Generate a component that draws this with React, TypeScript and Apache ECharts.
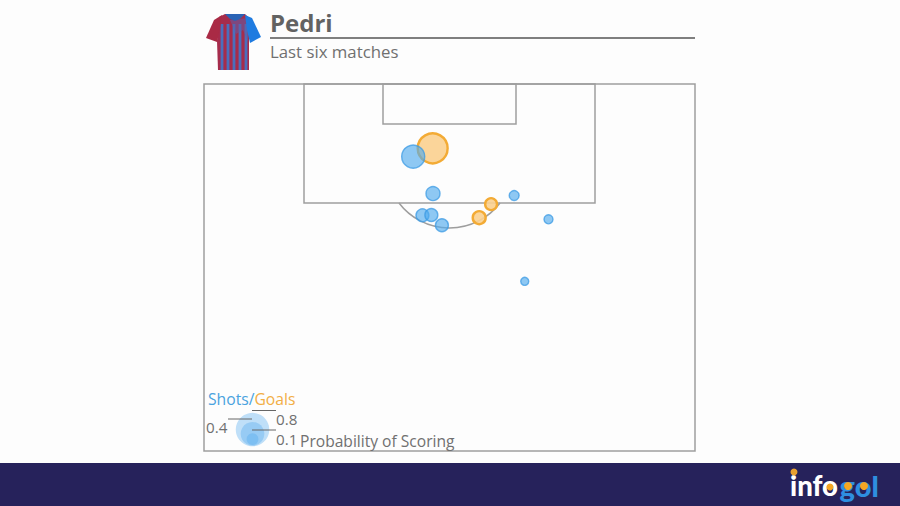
import React, { useEffect, useRef } from "react";
import * as echarts from "echarts";

// Shot positions in yards: [across from pitch centre, out from goal line, probability of scoring]
const shots: number[][] = [
  [-5.5, 11.0, 0.38],
  [-2.5, 16.6, 0.14],
  [9.8, 16.9, 0.07],
  [-4.1, 19.9, 0.12],
  [-2.75, 19.85, 0.12],
  [-1.15, 21.4, 0.12],
  [15.0, 20.5, 0.058],
  [11.4, 29.9, 0.046],
];
const goals: number[][] = [
  [-2.55, 9.75, 0.64],
  [6.3, 18.2, 0.1],
  [4.5, 20.25, 0.12],
];
const legendSizes: number[][] = [
  [-29.85, 52.35, 0.8],
  [-29.85, 53.0, 0.4],
  [-29.85, 53.8, 0.1],
];
const titleText = "Pedri";
const subtitleText = "Last six matches";
const legendProbabilityLabels = ["0.8", "0.4", "0.1"];
const legendCaption = "Probability of Scoring";

const TEXT = "#707070";
const LINE = "#9e9e9e";
const FONT = "'Open Sans', sans-serif";
const radius = (p: number) => Math.sqrt(p) * 18.7;
const symbolSize = (d: number[]) => radius(d[2]) * 2;

const stroke = { stroke: LINE, lineWidth: 1.5, fill: "none" };
const seg = (x1: number, y1: number, x2: number, y2: number, style: any = stroke, z = 0) => ({
  type: "line",
  z,
  silent: true,
  shape: { x1, y1, x2, y2 },
  style,
});
const label = (text: string, x: number, y: number, size: number, fill = TEXT, weight = "normal") => ({
  type: "text",
  x,
  y,
  z: 6,
  style: { text, fill, font: `${weight} ${size}px ${FONT}`, textVerticalAlign: "middle", textAlign: "left" },
});

const RED = "#a62c4c";
const BLUE = "#4a6fbd";

function jersey() {
  const stripes: any[] = [];
  const xs = [222, 228, 234, 240, 246];
  xs.forEach((x) => {
    stripes.push({
      type: "rect",
      z: 1,
      shape: { x: x - 1.4, y: 24, width: 2.8, height: 46 },
      style: { fill: BLUE },
    });
  });
  return [
    // body
    {
      type: "polygon",
      z: 0,
      shape: { points: [[219, 17], [225, 14], [245, 14], [249, 18], [249, 70], [218, 70], [217, 41]] },
      style: { fill: RED },
    },
    ...stripes,
    // upper chest blend
    {
      type: "polygon",
      z: 1,
      shape: { points: [[230, 20], [248, 18], [248, 42], [243, 30], [236, 34]] },
      style: { fill: "#5f5ea8", opacity: 0.55 },
    },
    // left sleeve (red)
    {
      type: "polygon",
      z: 2,
      shape: { points: [[214, 20], [222, 15], [220, 28], [217, 42], [206, 38]] },
      style: { fill: "#a92a45" },
    },
    // right sleeve (blue)
    {
      type: "polygon",
      z: 2,
      shape: { points: [[245, 15], [252, 18], [261, 37], [250, 43], [247, 30]] },
      style: { fill: "#1f7be0" },
    },
    // collar
    {
      type: "polygon",
      z: 3,
      shape: { points: [[225, 14], [245, 14], [240, 19], [235, 21], [230, 19]] },
      style: { fill: "#2a63b5" },
    },
  ];
}

function logo() {
  return [
    {
      type: "text",
      x: 790,
      y: 485,
      z: 6,
      style: { text: "info", fill: "#ffffff", font: `900 27.5px Lato, ${FONT}`, textVerticalAlign: "middle" },
    },
    {
      type: "text",
      x: 839.5,
      y: 485,
      z: 6,
      style: { text: "gol", fill: "#2e8fe0", font: `900 29px Lato, ${FONT}`, textVerticalAlign: "middle" },
    },
    { type: "circle", z: 7, shape: { cx: 830, cy: 487, r: 3.5 }, style: { fill: "#f5a623" } },
    { type: "circle", z: 7, shape: { cx: 848, cy: 486, r: 4 }, style: { fill: "#f5a623" } },
    { type: "circle", z: 7, shape: { cx: 864, cy: 486, r: 4 }, style: { fill: "#f5a623" } },
    { type: "circle", z: 7, shape: { cx: 794, cy: 472, r: 3.5 }, style: { fill: "#e8a030" } },
  ];
}

export default function App() {
  const ref = useRef<HTMLDivElement>(null);
  useEffect(() => {
    const chart = echarts.init(ref.current!, undefined, { renderer: "svg" });
    chart.setOption({
      animation: false,
      backgroundColor: "#fdfdfd",
      grid: { left: 204, top: 84, width: 491, height: 367, containLabel: false },
      xAxis: { type: "value", min: -37.2, max: 37.2, show: false },
      yAxis: { type: "value", min: 0, max: 55.6, inverse: true, show: false },
      series: [
        {
          type: "scatter",
          name: "Goals",
          data: goals,
          symbolSize,
          z: 3,
          itemStyle: { color: "rgba(251,208,143,0.9)", borderColor: "#f3ab35", borderWidth: 2.4, opacity: 1 },
        },
        {
          type: "scatter",
          name: "Shots",
          data: shots,
          symbolSize,
          z: 4,
          itemStyle: { color: "rgba(80,170,238,0.64)", borderColor: "rgba(60,155,228,0.75)", borderWidth: 1.4, opacity: 1 },
        },
        {
          type: "scatter",
          name: "Legend",
          data: legendSizes,
          symbolSize,
          z: 3,
          itemStyle: { color: "rgba(80,170,238,0.36)", borderWidth: 0, opacity: 1 },
        },
      ],
      graphic: {
        elements: [
          // footer
          { type: "rect", z: 5, shape: { x: 0, y: 463, width: 900, height: 43 }, style: { fill: "#26225b" } },
          // pitch
          { type: "rect", shape: { x: 204, y: 84, width: 491, height: 367 }, style: stroke },
          { type: "rect", shape: { x: 304, y: 84, width: 291, height: 119 }, style: stroke },
          { type: "rect", shape: { x: 383, y: 84, width: 133, height: 40 }, style: stroke },
          {
            type: "arc",
            shape: { cx: 449.5, cy: 164.5, r: 63.5, startAngle: 0.651, endAngle: Math.PI - 0.651, clockwise: true },
            style: stroke,
          },
          // header
          ...jersey(),
          label(titleText, 270, 22, 24, "#626262", "bold"),
          seg(270, 38, 695, 38, { stroke: "#555555", lineWidth: 1.5, fill: "none" }),
          label(subtitleText, 270, 51.5, 16.8),
          // legend
          {
            type: "text",
            x: 208,
            y: 398.5,
            z: 6,
            style: {
              text: "{s|Shots/}{g|Goals}",
              textVerticalAlign: "middle",
              rich: {
                s: { fill: "#4aa3df", font: `15.7px ${FONT}` },
                g: { fill: "#f2ae45", font: `15.7px ${FONT}` },
              },
            },
          },
          seg(252, 410.5, 276, 410.5, { stroke: "#666666", lineWidth: 1, fill: "none" }, 6),
          seg(228, 419, 252, 419, { stroke: "#666666", lineWidth: 1, fill: "none" }, 6),
          seg(252, 430, 276, 430, { stroke: "#666666", lineWidth: 1, fill: "none" }, 6),
          label(legendProbabilityLabels[0], 276, 418.8, 15.2),
          label(legendProbabilityLabels[1], 206, 427, 15.2),
          label(legendProbabilityLabels[2], 276, 438.5, 15.2),
          label(legendCaption, 300, 440.5, 15.6),
          // logo
          ...logo(),
        ],
      },
    });
    return () => chart.dispose();
  }, []);
  return <div ref={ref} style={{ position: "absolute", left: 0, top: 0, width: 900, height: 506 }} />;
}
